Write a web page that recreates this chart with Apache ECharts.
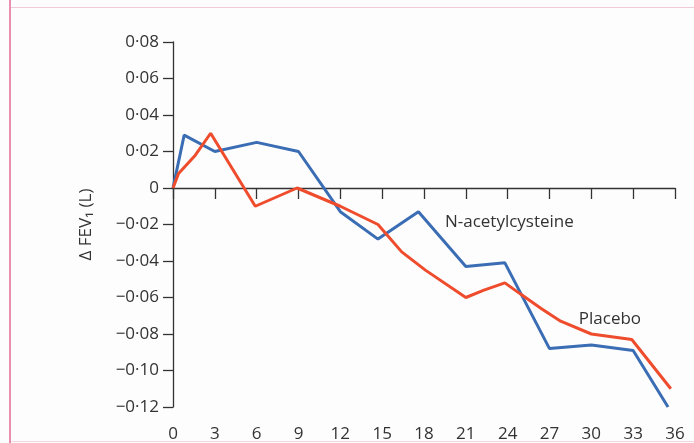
<!DOCTYPE html>
<html>
<head>
<meta charset="utf-8">
<script src="https://cdn.jsdelivr.net/npm/echarts@6/dist/echarts.min.js"></script>
<style>
html,body{margin:0;padding:0;background:#fdfdfd;}
#chart{width:694px;height:443px;}
</style>
</head>
<body>
<div id="chart"></div>
<script>
// Months and change in FEV1 (L)
var nacMonths   = [0, 0.8, 3, 6, 9, 12, 14.7, 17.6, 21, 23.8, 27, 30, 33, 35.5];
var nacValues   = [0, 0.029, 0.020, 0.025, 0.020, -0.013, -0.028, -0.013, -0.043, -0.041, -0.088, -0.086, -0.089, -0.120];
var placeboMonths = [0, 0.4, 1.6, 2.7, 5.9, 8.9, 12, 14.7, 16.4, 18.1, 21, 22.3, 23.8, 24.9, 26.4, 27.8, 30, 32.9, 35.7];
var placeboValues = [0, 0.008, 0.018, 0.030, -0.010, 0, -0.010, -0.020, -0.035, -0.045, -0.060, -0.056, -0.052, -0.058, -0.066, -0.073, -0.080, -0.083, -0.110];
var xTicks = {min: 0, max: 36, interval: 3};
var yTicks = {min: -0.12, max: 0.08, interval: 0.02};
var seriesNames = ['N-acetylcysteine', 'Placebo'];
var labelPos = [[19.5, -0.0185], [29.1, -0.0717]];

function zip(a, b){ return a.map(function(v,i){ return [v, b[i]]; }); }
function fmtY(v){
  if (Math.abs(v) < 1e-9) return '0';
  var s = Math.abs(v).toFixed(2).replace('.', '\u00B7');
  return (v < 0 ? '\u2212' : '') + s;
}
var font = '"Open Sans", "DejaVu Sans", sans-serif';
var txt = '#333333';
var fs = 17;
var chart = echarts.init(document.getElementById('chart'));
chart.setOption({
  backgroundColor: '#fdfdfd',
  animation: false,
  grid: {left: 173, right: 19, top: 42, bottom: 33},
  graphic: [
    {type: 'rect', shape: {x: 9, y: 0, width: 2, height: 443}, style: {fill: '#e98fb0'}},
    {type: 'rect', shape: {x: 11, y: 7, width: 683, height: 1}, style: {fill: '#f0cad8'}},
    {type: 'rect', shape: {x: 11, y: 441, width: 683, height: 1}, style: {fill: '#f3d6e0'}}
  ],
  xAxis: {
    type: 'value', min: xTicks.min, max: xTicks.max, interval: xTicks.interval,
    axisLine: {lineStyle: {color: '#333', width: 1.3}},
    axisTick: {length: 11, lineStyle: {color: '#333', width: 1.3}},
    axisLabel: {margin: 19, color: txt, fontSize: fs, fontFamily: font},
    splitLine: {show: false}
  },
  yAxis: {
    type: 'value', min: yTicks.min, max: yTicks.max, interval: yTicks.interval,
    name: '\u0394 FEV\u2081 (L)', nameLocation: 'middle', nameRotate: 90, nameGap: 78,
    nameTextStyle: {color: txt, fontSize: fs, fontFamily: font},
    axisLine: {show: true, lineStyle: {color: '#333', width: 1.3}},
    axisTick: {show: true, length: 10, lineStyle: {color: '#333', width: 1.3}},
    axisLabel: {margin: 14, color: txt, fontSize: fs, fontFamily: font, formatter: fmtY},
    splitLine: {show: false}
  },
  series: [
    {
      name: seriesNames[0], type: 'line', data: zip(nacMonths, nacValues),
      showSymbol: false, symbol: 'none', lineStyle: {color: '#3a6db4', width: 3}, itemStyle: {color: '#3a6db4'},
      z: 3,
      markPoint: {symbol: 'circle', symbolSize: 0, data: [{coord: labelPos[0], value: seriesNames[0]}],
        label: {show: true, position: 'right', distance: 0, formatter: seriesNames[0], color: txt, fontSize: fs, fontFamily: font}}
    },
    {
      name: seriesNames[1], type: 'line', data: zip(placeboMonths, placeboValues),
      showSymbol: false, symbol: 'none', lineStyle: {color: '#ee4c2c', width: 3}, itemStyle: {color: '#ee4c2c'},
      z: 4,
      markPoint: {symbol: 'circle', symbolSize: 0, data: [{coord: labelPos[1], value: seriesNames[1]}],
        label: {show: true, position: 'right', distance: 0, formatter: seriesNames[1], color: txt, fontSize: fs, fontFamily: font}}
    }
  ]
});
</script>
</body>
</html>
